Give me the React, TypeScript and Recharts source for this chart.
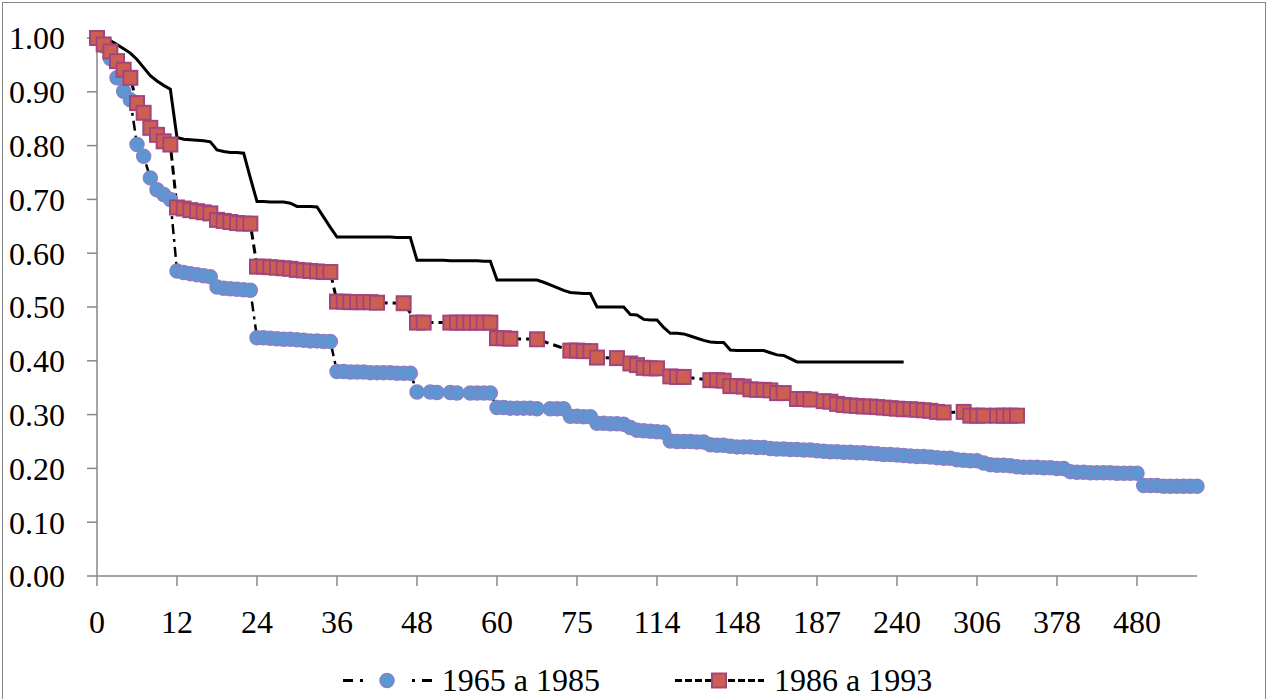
import React from 'react';
import { LineChart, Line, XAxis, YAxis, Legend } from 'recharts';

// time (months) for each category of the axis
const months = [
  0, 1, 2, 3, 4, 5, 6, 7, 8, 9, 10, 11,
  12, 13, 14, 15, 16, 17, 18, 19, 20, 21, 22, 23,
  24, 25, 26, 27, 28, 29, 30, 31, 32, 33, 34, 35,
  36, 37, 38, 39, 40, 41, 42, 43, 44, 45, 46, 47,
  48, 49, 50, 51, 52, 53, 54, 55, 56, 57, 58, 59,
  60, 61, 62, 63, 64, 65, 66, 67, 68, 69, 70, 72,
  75, 78, 81, 84, 87, 90, 93, 96, 99, 102, 105, 108,
  114, 117, 120, 123, 126, 129, 132, 135, 138, 141, 144, 146,
  148, 150, 153, 156, 160, 164, 168, 171, 174, 177, 180, 183,
  187, 192, 196, 200, 204, 208, 212, 216, 220, 225, 230, 235,
  240, 245, 250, 256, 262, 268, 274, 280, 286, 292, 296, 300,
  306, 312, 318, 324, 330, 336, 342, 348, 354, 360, 366, 372,
  378, 386, 394, 402, 410, 418, 426, 434, 442, 450, 460, 470,
  480, 486, 492, 498, 504, 510, 516, 522, 528, 534,
];

// black solid line
const survTotal = [
  1.000, 0.997, 0.995, 0.988, 0.980, 0.972, 0.960, 0.945, 0.930, 0.920, 0.912, 0.905,
  0.815, 0.812, 0.811, 0.810, 0.809, 0.807, 0.792, 0.789, 0.787, 0.787, 0.786, 0.740,
  0.696, 0.696, 0.695, 0.695, 0.695, 0.693, 0.687, 0.687, 0.687, 0.686, 0.667, 0.648,
  0.630, 0.630, 0.630, 0.630, 0.630, 0.630, 0.630, 0.630, 0.630, 0.629, 0.629, 0.629,
  0.587, 0.587, 0.587, 0.587, 0.587, 0.586, 0.586, 0.586, 0.586, 0.586, 0.585, 0.585,
  0.550, 0.550, 0.550, 0.550, 0.550, 0.550, 0.550, 0.546, 0.541, 0.536, 0.531, 0.527,
  0.526, 0.525, 0.525, 0.500, 0.500, 0.500, 0.500, 0.500, 0.486, 0.485, 0.477, 0.476,
  0.476, 0.462, 0.451, 0.451, 0.450, 0.446, 0.442, 0.438, 0.435, 0.434, 0.434, 0.420,
  0.419, 0.419, 0.419, 0.419, 0.419, 0.415, 0.411, 0.410, 0.404, 0.398, 0.398, 0.398,
  0.398, 0.398, 0.398, 0.398, 0.398, 0.398, 0.398, 0.398, 0.398, 0.398, 0.398, 0.398,
  0.398, 0.398, null, null, null, null, null, null, null, null, null, null,
  null, null, null, null, null, null, null, null, null, null, null, null,
  null, null, null, null, null, null, null, null, null, null, null, null,
  null, null, null, null, null, null, null, null, null, null,
];

// 1965 a 1985 (blue circles)
const surv1965 = [
  1.000, 0.985, 0.962, 0.926, 0.901, 0.885, 0.802, 0.780, 0.740, 0.718, 0.709, 0.700,
  0.567, 0.564, 0.562, 0.560, 0.558, 0.556, 0.537, 0.535, 0.534, 0.533, 0.532, 0.531,
  0.443, 0.443, 0.442, 0.441, 0.440, 0.440, 0.439, 0.438, 0.437, 0.437, 0.436, 0.436,
  0.380, 0.380, 0.379, 0.379, 0.379, 0.378, 0.378, 0.378, 0.378, 0.377, 0.377, 0.377,
  0.342, null, 0.342, 0.341, null, 0.341, 0.340, null, 0.340, 0.340, 0.340, 0.340,
  0.313, 0.313, 0.312, 0.312, 0.312, 0.312, 0.311, null, 0.311, 0.311, 0.311, 0.297,
  0.297, 0.296, 0.296, 0.284, 0.284, 0.283, 0.283, 0.282, 0.276, 0.271, 0.270, 0.269,
  0.268, 0.267, 0.251, 0.250, 0.250, 0.250, 0.249, 0.249, 0.244, 0.243, 0.243, 0.241,
  0.240, 0.240, 0.240, 0.239, 0.239, 0.237, 0.236, 0.236, 0.235, 0.235, 0.234, 0.234,
  0.233, 0.232, 0.231, 0.231, 0.230, 0.230, 0.229, 0.229, 0.228, 0.227, 0.226, 0.226,
  0.225, 0.224, 0.223, 0.222, 0.222, 0.221, 0.220, 0.219, 0.219, 0.216, 0.215, 0.214,
  0.214, 0.210, 0.207, 0.206, 0.206, 0.205, 0.203, 0.202, 0.202, 0.202, 0.201, 0.201,
  0.200, 0.200, 0.194, 0.193, 0.193, 0.192, 0.192, 0.192, 0.192, 0.191, 0.191, 0.191,
  0.191, 0.168, 0.168, 0.168, 0.167, 0.167, 0.167, 0.167, 0.167, 0.167,
];

// 1986 a 1993 (red squares)
const surv1986 = [
  1.000, 0.988, 0.975, 0.957, 0.941, 0.926, 0.879, 0.861, 0.833, 0.820, 0.808, 0.802,
  0.685, 0.683, 0.680, 0.678, 0.676, 0.674, 0.662, 0.660, 0.658, 0.656, 0.655, 0.655,
  0.575, 0.575, 0.574, 0.573, 0.572, 0.571, 0.569, 0.568, 0.567, 0.566, 0.565, 0.565,
  0.510, 0.510, 0.509, 0.509, 0.509, 0.509, 0.508, null, null, null, 0.507, null,
  0.471, 0.471, null, null, null, 0.471, 0.471, 0.471, 0.471, 0.471, 0.471, 0.471,
  0.442, 0.442, 0.441, null, null, null, 0.440, null, null, null, null, 0.419,
  0.419, 0.418, 0.418, 0.406, null, null, 0.405, null, 0.395, 0.392, 0.387, 0.386,
  0.386, null, 0.371, 0.370, 0.370, null, null, null, 0.364, 0.364, 0.363, 0.353,
  0.353, 0.352, 0.347, 0.346, 0.346, 0.345, 0.340, 0.340, null, 0.329, 0.329, 0.328,
  null, 0.325, 0.324, 0.320, 0.318, 0.317, 0.316, 0.315, 0.315, 0.314, 0.313, 0.312,
  0.311, 0.310, 0.310, 0.309, 0.308, 0.307, 0.305, 0.304, null, null, 0.305, 0.298,
  0.298, 0.298, null, 0.298, 0.298, 0.298, 0.298, null, null, null, null, null,
  null, null, null, null, null, null, null, null, null, null, null, null,
  null, null, null, null, null, null, null, null, null, null,
];

const yTicks = [0, 0.1, 0.2, 0.3, 0.4, 0.5, 0.6, 0.7, 0.8, 0.9, 1.0];

const data = months.map((m, i) => ({
  month: String(m),
  total: survTotal[i],
  a: surv1965[i],
  b: surv1986[i],
}));

const FONT = '"Liberation Serif", "Times New Roman", serif';
const AXIS = '#878787';
const BLUE = '#5b97d3';
const BLUE_EDGE = '#8682c4';
const RED = '#cd5f52';
const RED_EDGE = '#a3457c';

const CircleDot = (props: any) => {
  const { cx, cy, value, index } = props;
  if (value == null || cy == null) return <g key={`a-${index}`} />;
  return <circle key={`a-${index}`} cx={cx} cy={cy} r={7} fill={BLUE} stroke={BLUE_EDGE} strokeWidth={1.5} />;
};

const SquareDot = (props: any) => {
  const { cx, cy, value, index } = props;
  if (value == null || cy == null) return <g key={`b-${index}`} />;
  return <rect key={`b-${index}`} x={cx - 7} y={cy - 7} width={14} height={14} fill={RED} stroke={RED_EDGE} strokeWidth={2} />;
};

const LegendIcon = ({ kind }: { kind: string }) => (
  <svg width={89} height={24} style={{ display: 'block' }}>
    {kind === 'a' ? (
      <g>
        <rect x={0} y={11} width={10} height={3} fill="#000" />
        <rect x={17} y={11} width={3} height={3} fill="#000" />
        <circle cx={44} cy={12.5} r={7} fill={BLUE} stroke={BLUE_EDGE} strokeWidth={1.5} />
        <rect x={69} y={11} width={3} height={3} fill="#000" />
        <rect x={79} y={11} width={10} height={3} fill="#000" />
      </g>
    ) : (
      <g>
        <line x1={0} y1={12.5} x2={36} y2={12.5} stroke="#000" strokeWidth={3} strokeDasharray="7 3" />
        <line x1={53} y1={12.5} x2={89} y2={12.5} stroke="#000" strokeWidth={3} strokeDasharray="7 3" />
        <rect x={37} y={5.5} width={14} height={14} fill={RED} stroke={RED_EDGE} strokeWidth={2} />
      </g>
    )}
  </svg>
);

const renderLegend = (props: any) => {
  const items = (props.payload || []).filter((p: any) => p.dataKey === 'a' || p.dataKey === 'b');
  return (
    <div style={{ display: 'flex', justifyContent: 'center', alignItems: 'center', gap: 75, fontFamily: FONT, fontSize: 32, color: '#000', lineHeight: '36px' }}>
      {items.map((p: any) => (
        <div key={p.dataKey} style={{ display: 'flex', alignItems: 'center', gap: 10 }}>
          <LegendIcon kind={p.dataKey} />
          <span>{p.value}</span>
        </div>
      ))}
    </div>
  );
};

export default function App() {
  return (
    <div style={{ position: 'relative', width: 1270, height: 699, overflow: 'hidden', background: '#fff' }}>
      <style>{'body{margin:0}'}</style>
      <div style={{ position: 'absolute', left: 2, top: 2, width: 1262, height: 720, border: `1.5px solid ${AXIS}`, pointerEvents: 'none' }} />
      <LineChart width={1270} height={699} data={data} margin={{ top: 38, right: 73, left: 0, bottom: 63 }}>
        <XAxis
          dataKey="month"
          interval={11}
          tickSize={10}
          tickMargin={24}
          height={60}
          axisLine={{ stroke: AXIS, strokeWidth: 1.5 }}
          tickLine={{ stroke: AXIS, strokeWidth: 1.5 }}
          tick={{ fill: '#000', fontSize: 32, fontFamily: FONT }}
        />
        <YAxis
          domain={[0, 1]}
          ticks={yTicks}
          width={97}
          tickSize={10}
          tickMargin={22}
          tickFormatter={(v: number) => v.toFixed(2)}
          axisLine={{ stroke: AXIS, strokeWidth: 1.5 }}
          tickLine={{ stroke: AXIS, strokeWidth: 1.5 }}
          tick={{ fill: '#000', fontSize: 32, fontFamily: FONT }}
        />
        <Legend
          layout="horizontal"
          verticalAlign="middle"
          align="center"
          content={renderLegend}
          wrapperStyle={{ top: 662, left: 0, width: 1275 }}
        />
        <Line
          dataKey="a"
          name="1965 a 1985"
          stroke="#000"
          strokeWidth={2.5}
          strokeDasharray="10 5 3 5"
          connectNulls
          dot={CircleDot}
          activeDot={false}
          isAnimationActive={false}
        />
        <Line
          dataKey="b"
          name="1986 a 1993"
          stroke="#000"
          strokeWidth={3}
          strokeDasharray="9 5"
          connectNulls
          dot={SquareDot}
          activeDot={false}
          isAnimationActive={false}
        />
        <Line
          dataKey="total"
          name="Total"
          stroke="#000"
          strokeWidth={3}
          dot={false}
          activeDot={false}
          legendType="none"
          isAnimationActive={false}
        />
      </LineChart>
    </div>
  );
}
